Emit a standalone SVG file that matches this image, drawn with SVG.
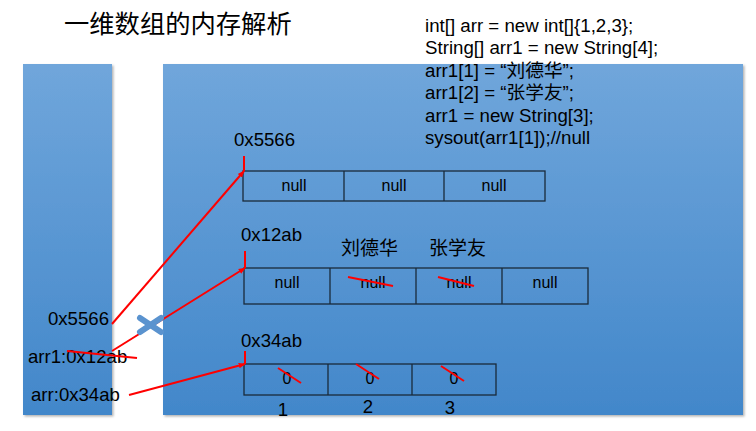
<svg xmlns="http://www.w3.org/2000/svg" width="756" height="431" viewBox="0 0 756 431">
<defs>
<linearGradient id="panelGrad" x1="0" y1="0" x2="0" y2="1">
<stop offset="0" stop-color="#70a6db"/>
<stop offset="1" stop-color="#4287ca"/>
</linearGradient>
<filter id="shadow" x="-5%" y="-5%" width="110%" height="110%">
<feDropShadow dx="1.5" dy="1.5" stdDeviation="1" flood-color="#000" flood-opacity="0.3"/>
</filter>
<marker id="arrow" viewBox="0 0 10 10" refX="9" refY="5" markerWidth="7" markerHeight="7" orient="auto" markerUnits="userSpaceOnUse">
<path d="M0,1 L10,5 L0,9 Z" fill="#ff0000"/>
</marker>
</defs>
<style>
.panel{fill:url(#panelGrad);filter:url(#shadow);}
text{font-family:"Liberation Sans","Noto Sans CJK SC",sans-serif;fill:#000;}
.lbl{font-size:18.6px;}
.code{font-size:18.7px;}
.cell{font-size:16px;text-anchor:middle;}
.box{fill:none;stroke:#1a2a3a;stroke-width:1.3;}
.red{stroke:#ff0000;stroke-width:2;fill:none;}
.conn{stroke:#ff0000;stroke-width:2;fill:none;marker-end:url(#arrow);}
.cross{stroke:#5a93cf;stroke-width:6;stroke-linecap:round;}
</style>
<rect width="756" height="431" fill="#ffffff"/>

<g id="title">
<text x="64" y="33" style="font-size:25.3px">一维数组的内存解析</text>
</g>

<g id="stack">
<rect class="panel" x="23" y="64" width="89" height="351"/>
<text class="lbl" x="109" y="325" text-anchor="end">0x5566</text>
<text class="lbl" x="28" y="363">arr1:0x12ab</text>
<text class="lbl" x="31" y="401">arr:0x34ab</text>
</g>

<g id="heap">
<rect class="panel" x="163" y="64" width="580" height="351"/>
</g>

<g id="code">
<text class="code" x="425" y="32">int[] arr = new int[]{1,2,3};</text>
<text class="code" x="425" y="54">String[] arr1 = new String[4];</text>
<text class="code" x="425" y="77">arr1[1] = “刘德华”;</text>
<text class="code" x="425" y="99">arr1[2] = “张学友”;</text>
<text class="code" x="425" y="122">arr1 = new String[3];</text>
<text class="code" x="425" y="144">sysout(arr1[1]);//null</text>
</g>

<g id="array-0x5566">
<text class="lbl" x="234" y="146">0x5566</text>
<rect class="box" x="243" y="171" width="302" height="30"/>
<line class="box" x1="344" y1="171" x2="344" y2="201"/>
<line class="box" x1="444" y1="171" x2="444" y2="201"/>
<text class="cell" x="294" y="191">null</text>
<text class="cell" x="394" y="191">null</text>
<text class="cell" x="494" y="191">null</text>
</g>

<g id="array-0x12ab">
<text class="lbl" x="241" y="241">0x12ab</text>
<text x="341" y="255" style="font-size:19px">刘德华</text>
<text x="429" y="255" style="font-size:19px">张学友</text>
<rect class="box" x="244" y="268" width="344" height="36"/>
<line class="box" x1="330" y1="268" x2="330" y2="304"/>
<line class="box" x1="416" y1="268" x2="416" y2="304"/>
<line class="box" x1="502" y1="268" x2="502" y2="304"/>
<text class="cell" x="287" y="288">null</text>
<text class="cell" x="373" y="288">null</text>
<text class="cell" x="459" y="288">null</text>
<text class="cell" x="545" y="288">null</text>
<line class="red" x1="348" y1="277" x2="393" y2="286"/>
<line class="red" x1="438" y1="277" x2="474" y2="286"/>
</g>

<g id="array-0x34ab">
<text class="lbl" x="241" y="347">0x34ab</text>
<rect class="box" x="244" y="364" width="252" height="31"/>
<line class="box" x1="328" y1="364" x2="328" y2="395"/>
<line class="box" x1="412" y1="364" x2="412" y2="395"/>
<text class="cell" x="287" y="384">0</text>
<text class="cell" x="370" y="384">0</text>
<text class="cell" x="454" y="384">0</text>
<line class="red" x1="278" y1="368" x2="301" y2="383"/>
<line class="red" x1="356" y1="364" x2="379" y2="379"/>
<line class="red" x1="441" y1="366" x2="464" y2="381"/>
<text class="lbl" x="283" y="416" text-anchor="middle">1</text>
<text class="lbl" x="368" y="413" text-anchor="middle">2</text>
<text class="lbl" x="450" y="414" text-anchor="middle">3</text>
</g>

<g id="connectors">
<line class="red" x1="244" y1="156" x2="244" y2="171"/>
<line class="red" x1="245" y1="251" x2="245" y2="268"/>
<line class="red" x1="245" y1="351" x2="245" y2="364"/>
<line class="conn" x1="112" y1="324" x2="244" y2="171"/>
<line class="conn" x1="112" y1="351" x2="245" y2="268"/>
<line class="conn" x1="129" y1="395" x2="245" y2="364"/>
<line class="red" x1="67" y1="351" x2="137" y2="358"/>
</g>

<g id="cross-mark">
<line class="cross" x1="140" y1="318" x2="161" y2="332"/>
<line class="cross" x1="140" y1="332" x2="161" y2="318"/>
</g>
</svg>
